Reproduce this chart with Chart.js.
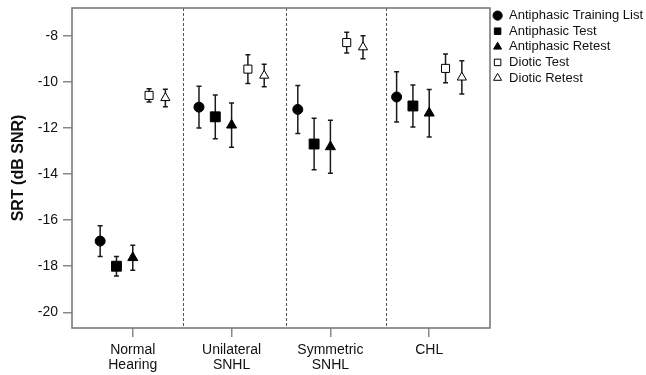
<!DOCTYPE html>
<html>
<head>
<meta charset="utf-8">
<script src="https://cdn.jsdelivr.net/npm/chart.js@4"></script>
<style>
  html, body { margin: 0; padding: 0; background: #fff; }
  #wrap { width: 646px; height: 375px; }
</style>
</head>
<body>
<div id="wrap"><canvas id="srtChart" width="646" height="375"></canvas></div>
<script>
// groups on the x axis
const categories = [['Normal', 'Hearing'], ['Unilateral', 'SNHL'], ['Symmetric', 'SNHL'], ['CHL']];
const yTicks = [-20, -18, -16, -14, -12, -10, -8];

// means and error bar half widths (dB SNR), one value per group
const trainingMean = [-16.91, -11.10, -11.20, -10.66];
const trainingErr = [0.67, 0.91, 1.04, 1.09];
const antiTestMean = [-18.00, -11.52, -12.70, -11.05];
const antiTestErr = [0.42, 0.95, 1.12, 0.91];
const antiRetestMean = [-17.63, -11.88, -12.82, -11.36];
const antiRetestErr = [0.54, 0.96, 1.15, 1.03];
const dioticTestMean = [-10.59, -9.45, -8.30, -9.42];
const dioticTestErr = [0.29, 0.62, 0.45, 0.62];
const dioticRetestMean = [-10.70, -9.73, -8.50, -9.81];
const dioticRetestErr = [0.38, 0.49, 0.50, 0.72];

const seriesNames = ['Antiphasic Training List', 'Antiphasic Test', 'Antiphasic Retest', 'Diotic Test', 'Diotic Retest'];

// dashed separators between groups (x axis units)
const dividers = [1.505, 2.548, 3.56];

const series = [
  { mean: trainingMean, err: trainingErr, style: 'circle', radius: 5, fill: '#000' },
  { mean: antiTestMean, err: antiTestErr, style: 'rect', radius: 7, fill: '#000' },
  { mean: antiRetestMean, err: antiRetestErr, style: 'triangle', radius: 5.8, fill: '#000' },
  { mean: dioticTestMean, err: dioticTestErr, style: 'rect', radius: 5.7, fill: '#fff' },
  { mean: dioticRetestMean, err: dioticRetestErr, style: 'triangle', radius: 5.3, fill: '#fff' }
];

const offsetStep = 0.165;

const datasets = series.map((s, i) => ({
  label: seriesNames[i],
  data: s.mean.map((v, g) => ({ x: g + 1 + (i - 2) * offsetStep, y: v, err: s.err[g] })),
  pointStyle: s.style,
  pointRadius: s.radius,
  pointHoverRadius: s.radius,
  pointBackgroundColor: s.fill,
  pointBorderColor: '#000',
  pointBorderWidth: 1,
  backgroundColor: s.fill,
  borderColor: '#000',
  borderWidth: 1,
  showLine: false
}));

// error bars under the markers
const errorBars = {
  id: 'errorBars',
  beforeDatasetsDraw(chart) {
    const ctx = chart.ctx;
    const xs = chart.scales.x, ys = chart.scales.y;
    ctx.save();
    ctx.strokeStyle = '#1a1a1a';
    ctx.lineWidth = 1.5;
    chart.data.datasets.forEach(ds => {
      ds.data.forEach(p => {
        const x = xs.getPixelForValue(p.x);
        const top = ys.getPixelForValue(p.y + p.err);
        const bot = ys.getPixelForValue(p.y - p.err);
        ctx.beginPath();
        ctx.moveTo(x, top); ctx.lineTo(x, bot);
        ctx.moveTo(x - 2.5, top); ctx.lineTo(x + 2.5, top);
        ctx.moveTo(x - 2.5, bot); ctx.lineTo(x + 2.5, bot);
        ctx.stroke();
      });
    });
    ctx.restore();
  }
};

// frame and dashed group separators
const frame = {
  id: 'frame',
  beforeDatasetsDraw(chart) {
    const { ctx, chartArea: a } = chart;
    const xs = chart.scales.x;
    ctx.save();
    ctx.strokeStyle = '#555';
    ctx.lineWidth = 1;
    ctx.setLineDash([3, 2]);
    dividers.forEach(d => {
      const x = Math.round(xs.getPixelForValue(d)) + 0.5;
      ctx.beginPath();
      ctx.moveTo(x, a.top);
      ctx.lineTo(x, a.bottom);
      ctx.stroke();
    });
    ctx.setLineDash([]);
    ctx.strokeStyle = '#7a7a7a';
    ctx.lineWidth = 1.6;
    ctx.strokeRect(a.left, a.top, a.right - a.left, a.bottom - a.top);
    ctx.restore();
  }
};

const ctx = document.getElementById('srtChart').getContext('2d');
new Chart(ctx, {
  type: 'scatter',
  data: { datasets },
  options: {
    responsive: false,
    animation: false,
    layout: { padding: { top: 6.5, right: 0, bottom: 0, left: 0 } },
    plugins: {
      tooltip: { enabled: false },
      legend: {
        position: 'right',
        align: 'start',
        maxWidth: 156,
        labels: {
          usePointStyle: true,
          boxWidth: 10,
          boxHeight: 6.5,
          padding: 2.6,
          color: '#111',
          font: { family: 'Liberation Sans, Arial, sans-serif', size: 13 }
        }
      }
    },
    scales: {
      x: {
        type: 'linear',
        min: 0.385,
        max: 4.615,
        afterBuildTicks: scale => { scale.ticks = categories.map((c, i) => ({ value: i + 1 })); },
        afterFit: scale => {
          scale.height = 47;
          scale.paddingLeft = 0;
          scale.paddingRight = 0;
        },
        border: { display: false },
        grid: { drawOnChartArea: false, drawTicks: true, tickLength: 9, color: '#888', lineWidth: 1.5 },
        ticks: {
          autoSkip: false,
          maxRotation: 0,
          padding: 5,
          color: '#111',
          font: { family: 'Liberation Sans, Arial, sans-serif', size: 14, lineHeight: 1.1 },
          callback: v => categories[Math.round(v) - 1]
        }
      },
      y: {
        min: -20.68,
        max: -6.8,
        afterBuildTicks: scale => { scale.ticks = yTicks.map(v => ({ value: v })); },
        afterFit: scale => {
          scale.width = 72;
          scale.paddingTop = 8;
          scale.paddingBottom = 0;
        },
        border: { display: false },
        grid: { drawOnChartArea: false, drawTicks: true, tickLength: 9, color: '#888', lineWidth: 1.5 },
        ticks: {
          padding: 5,
          color: '#111',
          font: { family: 'Liberation Sans, Arial, sans-serif', size: 14 }
        },
        title: {
          display: true,
          text: 'SRT (dB SNR)',
          color: '#111',
          padding: { top: 9, bottom: 0 },
          font: { family: 'Liberation Sans, Arial, sans-serif', size: 16, weight: 'bold' }
        }
      }
    }
  },
  plugins: [frame, errorBars]
});
</script>
</body>
</html>
